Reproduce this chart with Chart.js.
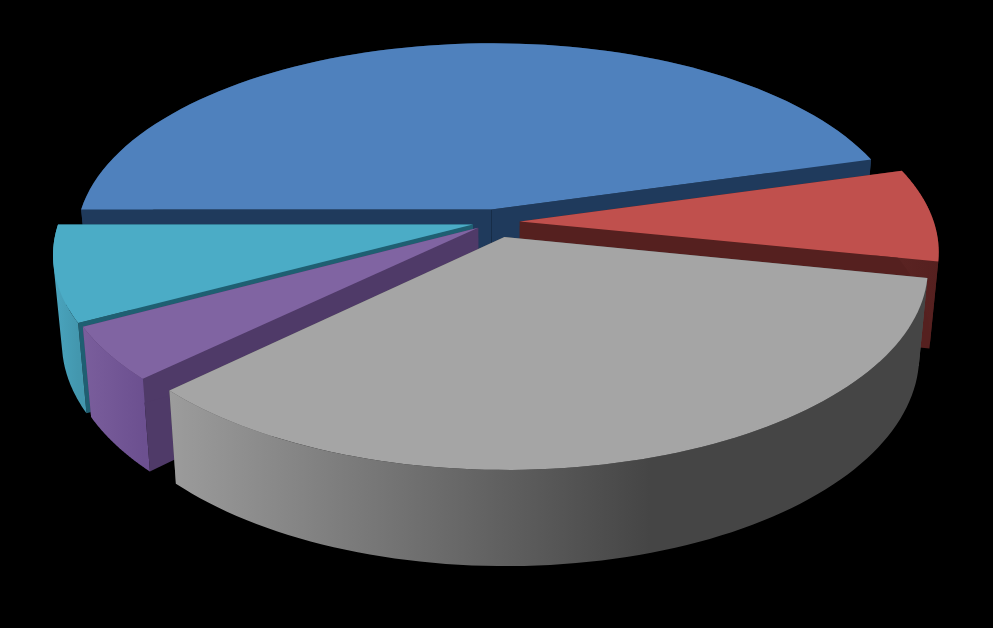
<!DOCTYPE html>
<html>
<head>
<meta charset="utf-8">
<title>Pie</title>
<script src="https://cdn.jsdelivr.net/npm/chart.js@4/dist/chart.umd.js"></script>
<style>
html, body { margin: 0; padding: 0; background: #000; }
canvas { display: block; }
</style>
</head>
<body>
<canvas id="pieChart" width="993" height="628"></canvas>
<script>
"use strict"
// Data
const categories = ["A", "B", "C", "D", "E"];
const values = [45.6, 7.6, 34.6, 4.4, 7.8];

// Styles per slice
const topColors = ["#4f81bd", "#c0504d", "#a5a5a5", "#8064a2", "#4bacc6"];
const sideColors = ["#1f3a5c", "#55201f", "#4f4f4f", "#4f3a68", "#1f5f72"];
const wallFrom = ["#1f3a5c", "#5a2322", "#9c9c9c", "#7a5e9c", "#4aa5bf"];
const wallTo = ["#1f3a5c", "#55201f", "#454545", "#6c5090", "#4397ae"];
const explode = [0.065, 0.06, 0.08, 0.05, 0.055];
const drawOrder = [0, 1, 4, 3, 2]; // back to front

// Perspective settings, relative to the pie radius
const squashX = 1.865;
const squashY = 0.874;
const tilt = 0.146;
const depth = 85;
const depthFront = 15; // walls get taller towards the viewer
const bottomScale = 0.98;

// Maps a point on the flat disc to the canvas
function project(arc, u, v, low) {
    const w = 1 - tilt * v;
    const s = low ? bottomScale : 1;
    return {
        x: arc.x + s * arc.outerRadius * squashX * u / w,
        y: arc.y + s * arc.outerRadius * squashY * v / w + (low ? depth + depthFront * v : 0)
    };
}

function rimPoints(arc, index, low) {
    const mid = (arc.startAngle + arc.endAngle) / 2;
    const ox = Math.cos(mid) * explode[index];
    const oy = Math.sin(mid) * explode[index];
    const steps = 80;
    const points = [];
    for (let i = 0; i <= steps; i++) {
        const a = arc.startAngle + (arc.endAngle - arc.startAngle) * i / steps;
        points.push(project(arc, ox + Math.cos(a), oy + Math.sin(a), low));
    }
    return { points: points, apex: project(arc, ox, oy, low) };
}

function addPolygon(ctx, points) {
    points.forEach((p, i) => i === 0 ? ctx.moveTo(p.x, p.y) : ctx.lineTo(p.x, p.y));
    ctx.closePath();
}

function fillPath(ctx, points, fill) {
    ctx.beginPath();
    addPolygon(ctx, points);
    ctx.fillStyle = fill;
    ctx.fill();
}

// Signed area, used to give every wall quad the same winding
function area(points) {
    let sum = 0;
    points.forEach((p, i) => {
        const q = points[(i + 1) % points.length];
        sum += p.x * q.y - q.x * p.y;
    });
    return sum;
}

// Draws the library's arcs as an exploded 3D pie
const pie3d = {
    id: "pie3d",
    beforeDatasetsDraw(chart) {
        const ctx = chart.ctx;
        const arcs = chart.getDatasetMeta(0).data;
        drawOrder.forEach(index => {
            const arc = arcs[index];
            const top = rimPoints(arc, index, false);
            const low = rimPoints(arc, index, true);
            const last = top.points.length - 1;

            // cut faces
            fillPath(ctx, [top.apex, top.points[0], low.points[0], low.apex], sideColors[index]);
            fillPath(ctx, [top.apex, top.points[last], low.points[last], low.apex], sideColors[index]);

            // outer wall, light to dark from left to right
            const xs = top.points.map(p => p.x);
            const grad = ctx.createLinearGradient(Math.min(...xs), 0, index === 2 ? 650 : Math.max(...xs), 0);
            grad.addColorStop(0, wallFrom[index]);
            grad.addColorStop(1, wallTo[index]);
            ctx.beginPath();
            for (let i = 0; i < last; i++) {
                const quad = [top.points[i], top.points[i + 1], low.points[i + 1], low.points[i]];
                addPolygon(ctx, area(quad) < 0 ? quad.reverse() : quad);
            }
            ctx.fillStyle = grad;
            ctx.fill();

            // top face
            fillPath(ctx, [top.apex].concat(top.points), topColors[index]);
        });
        return false;
    }
};

new Chart(document.getElementById("pieChart"), {
    type: "pie",
    data: {
        labels: categories,
        datasets: [{ data: values, backgroundColor: topColors, borderWidth: 0 }]
    },
    options: {
        responsive: false,
        animation: false,
        rotation: -90,
        layout: { padding: { left: 0, right: 3, top: 0, bottom: 184 } },
        plugins: { legend: { display: false }, tooltip: { enabled: false } }
    },
    plugins: [pie3d]
});
</script>
</body>
</html>
